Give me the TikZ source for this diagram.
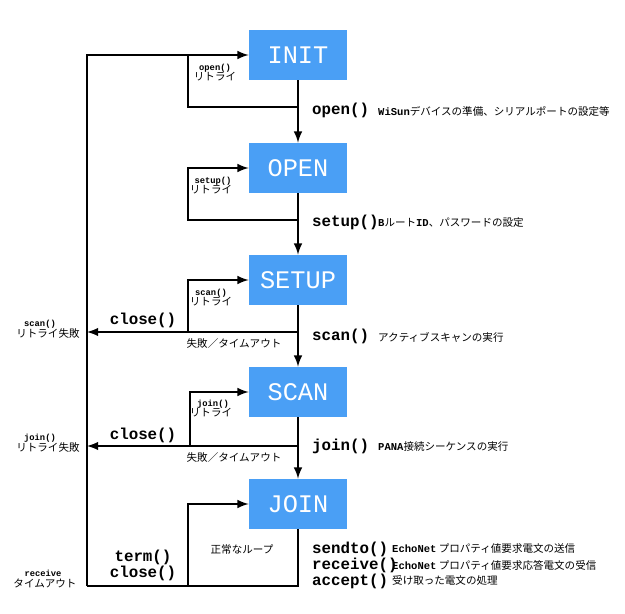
\documentclass[tikz,border=0pt]{standalone}
\usepackage{fontspec}
\setmonofont{Liberation Mono}
\newfontfamily\jp{Noto Sans CJK JP}
\usetikzlibrary{positioning}
\definecolor{stateblue}{HTML}{4A9FF5}

\begin{document}
\begin{tikzpicture}[x=0.02cm, y=-0.02cm, >=latex,
    state/.style={fill=stateblue, minimum width=1.96cm, minimum height=1cm,
        text=white, font=\ttfamily\Large},
    func/.style={font=\ttfamily\bfseries\small},
    note/.style={font=\jp\fontsize{6}{7}\selectfont, align=left},
    line/.style={line width=1.2pt}]
        \useasboundingbox (0, 0) rectangle (625, 614);
        % states
        \node[state] (init) at (298, 55) {INIT};
        \node[state] (open) at (298, 168) {OPEN};
        \node[state] (setup) at (298, 280) {SETUP};
        \node[state] (scan) at (298, 392) {SCAN};
        \node[state] (join) at (298, 504) {JOIN};
        % corner points
        \coordinate (top) at (87, 55);
        \coordinate (bottom) at (87, 586);
        \coordinate (loopend) at (298, 586);
        \coordinate (r1) at (298, 107);  \coordinate (r1l) at (188, 107);  \coordinate (r1t) at (188, 55);
        \coordinate (r2) at (298, 220);  \coordinate (r2l) at (188, 220);  \coordinate (r2t) at (188, 168);
        \coordinate (r3) at (298, 332);  \coordinate (r3l) at (188, 332);  \coordinate (r3t) at (188, 280);
        \coordinate (r4) at (298, 446);  \coordinate (r4l) at (190, 446);  \coordinate (r4t) at (190, 392);
        \coordinate (r5l) at (188, 586);  \coordinate (r5t) at (188, 504);
        \coordinate (f3) at (87, 332);
        \coordinate (f4) at (87, 446);
        % main flow
        \draw[line, ->] (init) -- (open);
        \draw[line, ->] (open) -- (setup);
        \draw[line, ->] (setup) -- (scan);
        \draw[line, ->] (scan) -- (join);
        % back to init
        \draw[line, ->] (bottom) -- (top) -- (init);
        \draw[line] (join) -- (loopend) -- (bottom);
        % retries
        \draw[line] (r1) -- (r1l) -- (r1t);
        \draw[line, ->] (r2) -- (r2l) -- (r2t) -- (open);
        \draw[line, ->] (r3l) -- (r3t) -- (setup);
        \draw[line, ->] (r3) -- (f3);
        \draw[line, ->] (r4l) -- (r4t) -- (scan);
        \draw[line, ->] (r4) -- (f4);
        \draw[line, ->] (r5l) -- (r5t) -- (join);
        % labels on the left
        \node[note, font=\ttfamily\bfseries\tiny] (l1) at (215, 68) {open()};
        \node[note] (l1b) at (215, 77) {リトライ};
        \node[note, font=\ttfamily\bfseries\tiny] (l2) at (213, 181) {setup()};
        \node[note] (l2b) at (211, 190) {リトライ};
        \node[note, font=\ttfamily\bfseries\tiny] (l3) at (211, 293) {scan()};
        \node[note] (l3b) at (211, 302) {リトライ};
        \node[note, font=\ttfamily\bfseries\tiny] (l4) at (213, 404) {join()};
        \node[note] (l4b) at (211, 413) {リトライ};
        \node[func] (c3) at (143, 320) {close()};
        \node[func] (c4) at (143, 435) {close()};
        \node[note] (e3) at (234, 343) {失敗／タイムアウト};
        \node[note] (e4) at (234, 457) {失敗／タイムアウト};
        \node[note, font=\ttfamily\bfseries\tiny] (s3) at (40, 324) {scan()};
        \node[note] (s3b) at (48, 334) {リトライ失敗};
        \node[note, font=\ttfamily\bfseries\tiny] (s4) at (40, 438) {join()};
        \node[note] (s4b) at (48, 448) {リトライ失敗};
        \node[note, font=\ttfamily\bfseries\tiny] (s5) at (43, 573) {receive};
        \node[note] (s5b) at (45, 583) {タイムアウト};
        \node[func] (tc) at (143, 557) {term()};
        \node[func] (tc2) at (143, 573) {close()};
        \node[note] (ok) at (242, 549) {正常なループ};
        % labels on the right
        \node[func, anchor=west] (o) at (306, 110) {open()};
        \node[note, anchor=west] at (372, 111) {\textbf{\ttfamily WiSun}デバイスの準備、シリアルポートの設定等};
        \node[func, anchor=west] (su) at (306, 222) {setup()};
        \node[note, anchor=west] at (372, 223) {\textbf{\ttfamily B}ルート\textbf{\ttfamily ID}、パスワードの設定};
        \node[func, anchor=west] (sc) at (306, 336) {scan()};
        \node[note, anchor=west] at (372, 337) {アクティブスキャンの実行};
        \node[func, anchor=west] (jo) at (306, 446) {join()};
        \node[note, anchor=west] at (372, 447) {\textbf{\ttfamily PANA}接続シーケンスの実行};
        \node[func, anchor=west] (sd) at (306, 549) {sendto()};
        \node[note, anchor=west] at (386, 549) {\textbf{\ttfamily EchoNet} プロパティ値要求電文の送信};
        \node[func, anchor=west] (rc) at (306, 565) {receive()};
        \node[note, anchor=west] at (386, 565) {\textbf{\ttfamily EchoNet} プロパティ値要求応答電文の受信};
        \node[func, anchor=west] (ac) at (306, 581) {accept()};
        \node[note, anchor=west] at (386, 580) {受け取った電文の処理};
    \end{tikzpicture}
\end{document}
